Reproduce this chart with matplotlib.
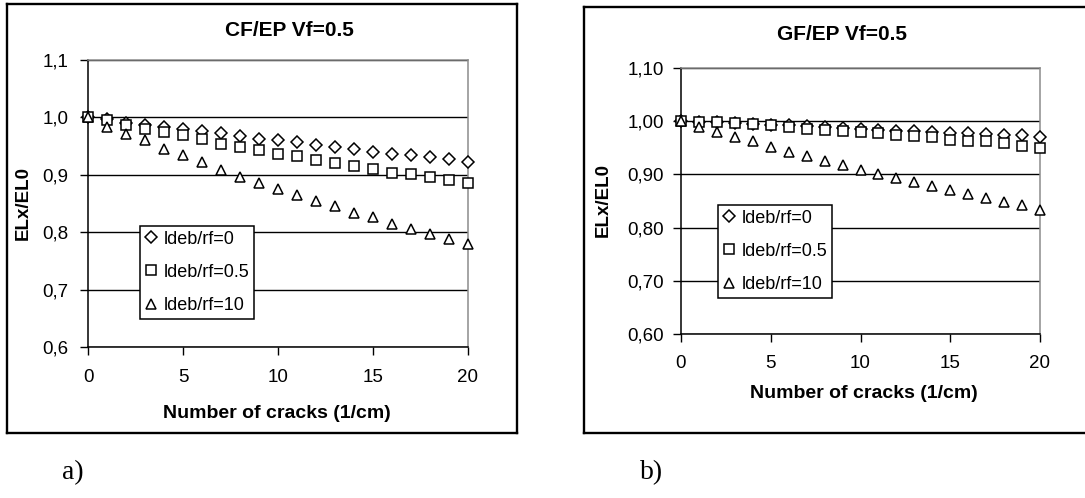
import matplotlib
matplotlib.use("Agg")
import matplotlib.pyplot as plt
from matplotlib.lines import Line2D
from matplotlib.ticker import FixedLocator, FuncFormatter

# Number of cracks per cm
cracks = list(range(21))

# CF/EP, Vf = 0.5 : normalised longitudinal modulus ELx/EL0
cf_ldeb0 = [1.000, 0.997, 0.990, 0.987, 0.984, 0.980, 0.976, 0.972, 0.968, 0.963,
            0.960, 0.957, 0.952, 0.948, 0.945, 0.940, 0.937, 0.934, 0.931, 0.927, 0.923]
cf_ldeb05 = [1.000, 0.995, 0.987, 0.980, 0.975, 0.969, 0.963, 0.954, 0.949, 0.943,
             0.937, 0.932, 0.926, 0.920, 0.915, 0.910, 0.904, 0.902, 0.897, 0.891, 0.885]
cf_ldeb10 = [1.000, 0.984, 0.971, 0.960, 0.945, 0.934, 0.923, 0.908, 0.897, 0.885,
             0.876, 0.865, 0.854, 0.846, 0.833, 0.826, 0.814, 0.805, 0.797, 0.788, 0.780]

# GF/EP, Vf = 0.5
gf_ldeb0 = [1.000, 0.999, 0.998, 0.997, 0.995, 0.993, 0.992, 0.991, 0.989, 0.988,
            0.985, 0.984, 0.982, 0.981, 0.980, 0.978, 0.977, 0.976, 0.975, 0.974, 0.971]
gf_ldeb05 = [1.000, 0.998, 0.998, 0.997, 0.995, 0.992, 0.989, 0.985, 0.984, 0.981,
             0.979, 0.978, 0.974, 0.972, 0.970, 0.965, 0.963, 0.962, 0.959, 0.954, 0.949]
gf_ldeb10 = [1.000, 0.990, 0.980, 0.971, 0.962, 0.952, 0.943, 0.934, 0.925, 0.918,
             0.909, 0.901, 0.894, 0.886, 0.878, 0.870, 0.864, 0.855, 0.849, 0.843, 0.833]

series_labels = ["ldeb/rf=0", "ldeb/rf=0.5", "ldeb/rf=10"]
x_ticks = [0, 5, 10, 15, 20]
y_ticks = [0.6, 0.7, 0.8, 0.9, 1.0, 1.1]

plt.rcParams["font.family"] = ["Liberation Sans", "DejaVu Sans"]

W, H = 1085, 498
fig = plt.figure(figsize=(W / 100, H / 100), dpi=100)


def fx(px):
    return px / W


def fy(py):
    return 1 - py / H


def frame(x0, y0, x1, y1, right=True):
    segs = [((x0, x1), (y0, y0)), ((x0, x1), (y1, y1)), ((x0, x0), (y0, y1))]
    if right:
        segs.append(((x1, x1), (y0, y1)))
    for xs, ys in segs:
        fig.add_artist(Line2D([fx(v) for v in xs], [fy(v) for v in ys],
                              color="black", lw=1.7, solid_capstyle="projecting"))


markers = [dict(marker="D", ms=5.8), dict(marker="s", ms=6.6), dict(marker="^", ms=7.8)]


def panel(rect_px, title, series, decimals, title_xy, ylabel_xy, xlabel_xy,
          legend_xy, tick_pad_x, tick_pad_y):
    x0, y0, x1, y1 = rect_px
    ax = fig.add_axes([fx(x0), fy(y1), fx(x1 - x0), (y1 - y0) / H])
    ax.set_xlim(0, 20)
    ax.set_ylim(0.6, 1.1)
    ax.set_axisbelow(True)
    handles = []
    for vals, lab, mk in zip(series, series_labels, markers):
        h, = ax.plot(cracks, vals, linestyle="none", mfc="white", mec="black",
                     mew=1.1, clip_on=False, zorder=3, label=lab, **mk)
        handles.append(h)
    ax.xaxis.set_major_locator(FixedLocator(x_ticks))
    ax.yaxis.set_major_locator(FixedLocator(y_ticks))
    ax.yaxis.set_major_formatter(
        FuncFormatter(lambda v, p: f"{v:.{decimals}f}".replace(".", ",")))
    ax.tick_params(axis="both", direction="out", length=6, width=1.0,
                   labelsize=13.5, colors="black")
    ax.tick_params(axis="x", pad=tick_pad_x)
    ax.tick_params(axis="y", pad=tick_pad_y)
    ax.yaxis.grid(True, color="black", lw=1.0)
    for s in ("top", "right"):
        ax.spines[s].set_color("#8c8c8c")
        ax.spines[s].set_linewidth(1.1)
    for s in ("left", "bottom"):
        ax.spines[s].set_color("black")
        ax.spines[s].set_linewidth(1.1)

    fig.text(fx(title_xy[0]), fy(title_xy[1]), title, ha="center", va="center",
             fontsize=15, fontweight="bold")
    fig.text(fx(ylabel_xy[0]), fy(ylabel_xy[1]), "ELx/EL0", ha="center",
             va="center", rotation=90, fontsize=13.5, fontweight="bold")
    fig.text(fx(xlabel_xy[0]), fy(xlabel_xy[1]), "Number of cracks (1/cm)",
             ha="center", va="center", fontsize=14, fontweight="bold")

    leg = ax.legend(handles=handles, loc="upper left",
                    bbox_to_anchor=(fx(legend_xy[0]), fy(legend_xy[1])),
                    bbox_transform=fig.transFigure, borderaxespad=0,
                    fontsize=13, frameon=True, fancybox=False, framealpha=1,
                    edgecolor="black", handlelength=0.7, handletextpad=0.35,
                    labelspacing=0.9, borderpad=0.25)
    leg.get_frame().set_linewidth(1.1)
    leg.set_zorder(5)
    return ax


# panel a) CF/EP
frame(7, 4, 517, 433)
panel((88, 60, 468, 347), "CF/EP Vf=0.5", [cf_ldeb0, cf_ldeb05, cf_ldeb10], 1,
      title_xy=(289, 31), ylabel_xy=(23, 203), xlabel_xy=(277, 413),
      legend_xy=(140, 226), tick_pad_x=10, tick_pad_y=8)

# panel b) GF/EP
frame(584, 7, 1095, 433, right=False)
panel((681, 68, 1040, 334), "GF/EP Vf=0.5", [gf_ldeb0, gf_ldeb05, gf_ldeb10], 2,
      title_xy=(842, 35), ylabel_xy=(603, 200), xlabel_xy=(864, 394),
      legend_xy=(718, 205), tick_pad_x=9, tick_pad_y=6.5)

fig.text(fx(62), fy(473), "a)", ha="left", va="center", fontsize=20,
         family=["Liberation Serif", "DejaVu Serif"])
fig.text(fx(640), fy(473), "b)", ha="left", va="center", fontsize=20,
         family=["Liberation Serif", "DejaVu Serif"])

fig.savefig("out.png", dpi=100, facecolor="white")
